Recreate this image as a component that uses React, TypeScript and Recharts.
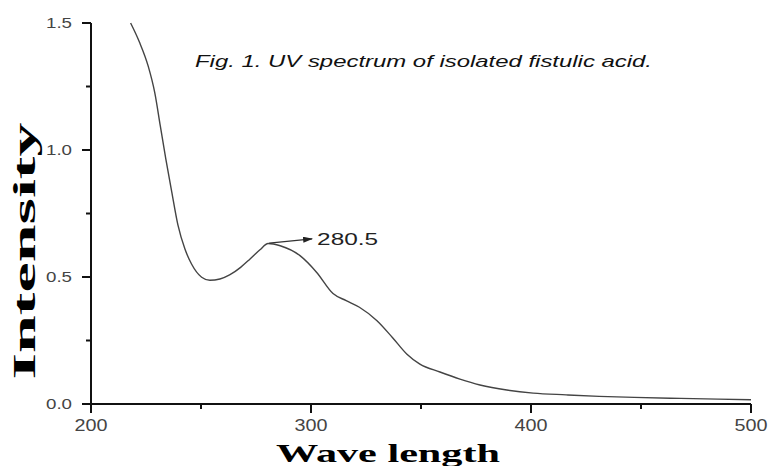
import { CartesianGrid, Customized, Line, LineChart, ReferenceLine, XAxis, YAxis } from "recharts"

// wavelength (nm)
const wavelengths = [
  218, 222, 226, 229, 231.5, 234, 236.7, 239.5, 242.7, 245.7, 250.3, 254, 258.6, 263, 268, 272.3, 276.8,
  280.5, 286, 295, 302.6, 310, 316, 322, 330, 337, 343.5, 349.5, 358.6, 367.7, 376.8, 389, 401, 416, 431,
  447, 468, 485, 500,
]
// intensity at each wavelength
const intensities = [
  1.5, 1.425, 1.33, 1.225, 1.095, 0.965, 0.835, 0.705, 0.61, 0.551, 0.499, 0.487, 0.492, 0.508, 0.538, 0.571,
  0.607, 0.632, 0.623, 0.584, 0.518, 0.435, 0.407, 0.381, 0.328, 0.262, 0.197, 0.157, 0.126, 0.098, 0.075,
  0.055, 0.043, 0.036, 0.03, 0.026, 0.022, 0.019, 0.017,
]

const xTicks = [200, 250, 300, 350, 400, 450, 500]
const xMajor = [200, 300, 400, 500]
const yTicks = [0, 0.25, 0.5, 0.75, 1, 1.25, 1.5]
const yMajor = [0, 0.5, 1, 1.5]

// peak annotation: arrow from peak to label
const peakFrom = { x: 281, y: 0.633 }
const peakTo = { x: 300.5, y: 0.65 }
const peakLabel = "280.5"

const title = "Fig. 1. UV spectrum of isolated fistulic acid."
const xLabel = "Wave length"
const yLabel = "Intensity"

const data = wavelengths.map((wl, i) => ({ wl, v: intensities[i] }))

const XTick = (props: any) => {
  const { x, y, payload } = props
  const major = xMajor.includes(payload.value)
  return (
    <g>
      <line x1={x} y1={y} x2={x} y2={y + (major ? 9 : 5)} stroke="#111" strokeWidth={2} />
      {major && (
        <text
          x={x}
          y={y + 27}
          textAnchor="middle"
          fontSize={16}
          fill="#444"
          fontFamily="Liberation Sans, Arial, sans-serif"
          textLength={33}
          lengthAdjust="spacingAndGlyphs"
        >
          {payload.value}
        </text>
      )}
    </g>
  )
}

const YTick = (props: any) => {
  const { x, y, payload } = props
  const major = yMajor.includes(payload.value)
  return (
    <g>
      <line x1={x - (major ? 9 : 5)} y1={y} x2={x} y2={y} stroke="#111" strokeWidth={2} />
      {major && (
        <text
          x={x - 19}
          y={y + 5}
          textAnchor="end"
          fontSize={15}
          fill="#444"
          fontFamily="Liberation Sans, Arial, sans-serif"
          textLength={26}
          lengthAdjust="spacingAndGlyphs"
        >
          {payload.value.toFixed(1)}
        </text>
      )}
    </g>
  )
}

const ArrowShape = (props: any) => {
  const { x1, y1, x2, y2 } = props
  return (
    <g>
      <defs>
        <marker id="arrowHead" markerWidth="10" markerHeight="6" refX="9" refY="3" orient="auto" markerUnits="userSpaceOnUse">
          <path d="M0,0 L10,3 L0,6 Z" fill="#222" />
        </marker>
      </defs>
      <line x1={x1} y1={y1} x2={x2} y2={y2} stroke="#333" strokeWidth={1.2} markerEnd="url(#arrowHead)" />
      <text
        x={x2 + 5}
        y={y2 + 6}
        fontSize={17}
        fill="#222"
        fontFamily="Liberation Sans, Arial, sans-serif"
        textLength={61}
        lengthAdjust="spacingAndGlyphs"
      >
        {peakLabel}
      </text>
    </g>
  )
}

const Labels = () => (
  <g>
    <text
      x={195}
      y={67}
      fontSize={17}
      fontStyle="italic"
      fill="#111"
      fontFamily="Liberation Sans, Arial, sans-serif"
      textLength={457}
      lengthAdjust="spacingAndGlyphs"
    >
      {title}
    </text>
    <text
      x={388}
      y={462}
      textAnchor="middle"
      fontSize={26}
      fontWeight="bold"
      fill="#000"
      fontFamily="Liberation Serif, Times New Roman, serif"
      textLength={224}
      lengthAdjust="spacingAndGlyphs"
    >
      {xLabel}
    </text>
    <text
      transform="translate(35,251) rotate(-90)"
      textAnchor="middle"
      fontSize={32}
      fontWeight="bold"
      fill="#000"
      fontFamily="Liberation Serif, Times New Roman, serif"
      textLength={257}
      lengthAdjust="spacingAndGlyphs"
    >
      {yLabel}
    </text>
  </g>
)

export default function App() {
  return (
    <div style={{ position: "absolute", left: 0, top: 0, width: 769, height: 466, background: "#fff" }}>
      <LineChart width={769} height={466} data={data} margin={{ top: 23, right: 18, left: 0, bottom: 0 }}>
        <CartesianGrid stroke="none" />
        <XAxis
          dataKey="wl"
          type="number"
          domain={[200, 500]}
          ticks={xTicks}
          height={62}
          tickLine={false}
          tickSize={0}
          tickMargin={0}
          tick={<XTick />}
          axisLine={{ stroke: "#111", strokeWidth: 2 }}
          interval={0}
        />
        <YAxis
          type="number"
          domain={[0, 1.5]}
          ticks={yTicks}
          width={91}
          tickLine={false}
          tickSize={0}
          tickMargin={0}
          tick={<YTick />}
          axisLine={{ stroke: "#111", strokeWidth: 2 }}
          interval={0}
        />
        <Line
          dataKey="v"
          type="monotone"
          stroke="#444"
          strokeWidth={1.4}
          dot={false}
          activeDot={false}
          isAnimationActive={false}
        />
        <ReferenceLine
          segment={[peakFrom, peakTo]}
          stroke="#333"
          shape={(p: any) => <ArrowShape {...p} />}
        />
        <Customized component={Labels} />
      </LineChart>
    </div>
  )
}
